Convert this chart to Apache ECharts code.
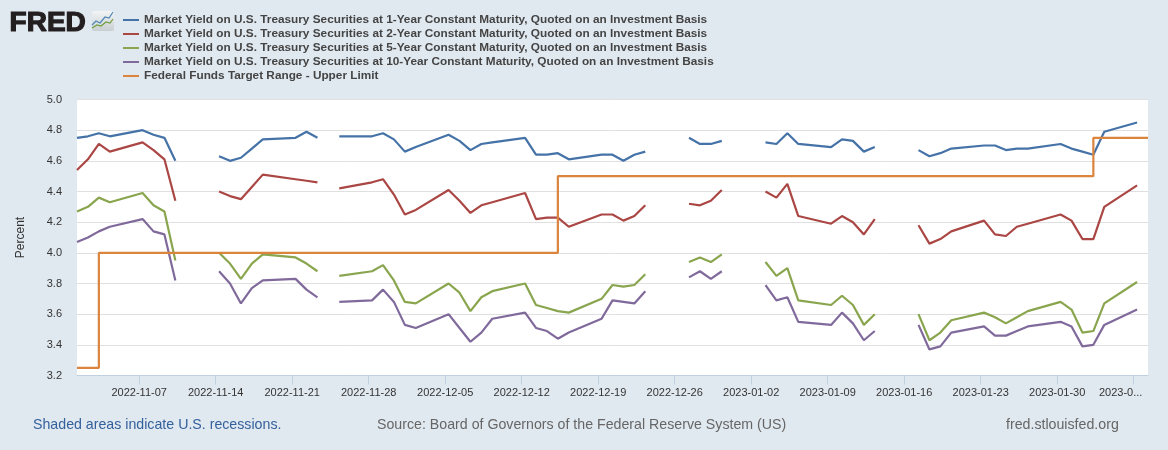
<!DOCTYPE html>
<html><head><meta charset="utf-8">
<style>html,body{margin:0;padding:0;background:#E1E9F0}#c{width:1168px;height:450px}</style>
<script src="https://cdn.jsdelivr.net/npm/echarts@6/dist/echarts.min.js"></script>
</head><body><div id="c"></div>
<script>
const dates = ['2022-11-01','2022-11-02','2022-11-03','2022-11-04','2022-11-07','2022-11-08','2022-11-09','2022-11-10','2022-11-11',
'2022-11-14','2022-11-15','2022-11-16','2022-11-17','2022-11-18','2022-11-21','2022-11-22','2022-11-23','2022-11-24','2022-11-25',
'2022-11-28','2022-11-29','2022-11-30','2022-12-01','2022-12-02','2022-12-05','2022-12-06','2022-12-07','2022-12-08','2022-12-09',
'2022-12-12','2022-12-13','2022-12-14','2022-12-15','2022-12-16','2022-12-19','2022-12-20','2022-12-21','2022-12-22','2022-12-23',
'2022-12-26','2022-12-27','2022-12-28','2022-12-29','2022-12-30','2023-01-02','2023-01-03','2023-01-04','2023-01-05','2023-01-06',
'2023-01-09','2023-01-10','2023-01-11','2023-01-12','2023-01-13','2023-01-16','2023-01-17','2023-01-18','2023-01-19','2023-01-20',
'2023-01-23','2023-01-24','2023-01-25','2023-01-26','2023-01-27','2023-01-30','2023-01-31','2023-02-01','2023-02-02','2023-02-03','2023-02-06'];
const y1 = [4.75,4.76,4.78,4.76,4.80,4.77,4.75,4.60,null,
4.63,4.60,4.62,4.68,4.74,4.75,4.79,4.75,null,4.76,
4.76,4.78,4.74,4.66,4.69,4.77,4.73,4.67,4.71,4.72,
4.75,4.64,4.64,4.65,4.61,4.64,4.64,4.60,4.64,4.66,
null,4.75,4.71,4.71,4.73,null,4.72,4.71,4.78,4.71,
4.69,4.74,4.73,4.66,4.69,null,4.67,4.63,4.65,4.68,
4.70,4.70,4.67,4.68,4.68,4.71,4.68,4.66,4.64,4.79,4.85];
const y2 = [4.54,4.61,4.71,4.66,4.72,4.67,4.61,4.34,null,
4.40,4.37,4.35,4.43,4.51,4.48,4.47,4.46,null,4.42,
4.46,4.48,4.38,4.25,4.28,4.41,4.34,4.26,4.31,4.33,
4.39,4.22,4.23,4.23,4.17,4.25,4.25,4.21,4.24,4.31,
null,4.32,4.31,4.34,4.41,null,4.40,4.36,4.45,4.24,
4.19,4.24,4.20,4.12,4.22,null,4.18,4.06,4.09,4.14,
4.21,4.12,4.11,4.17,4.19,4.25,4.21,4.09,4.09,4.30,4.44];
const y5 = [4.27,4.30,4.36,4.33,4.39,4.31,4.27,3.95,null,
4.00,3.93,3.83,3.93,3.99,3.97,3.93,3.88,null,3.85,
3.88,3.92,3.82,3.68,3.67,3.80,3.74,3.62,3.71,3.75,
3.80,3.66,3.64,3.62,3.61,3.70,3.79,3.78,3.79,3.86,
null,3.94,3.97,3.94,3.99,null,3.94,3.85,3.90,3.69,
3.66,3.72,3.66,3.53,3.60,null,3.60,3.43,3.48,3.56,
3.61,3.58,3.54,3.58,3.62,3.68,3.63,3.48,3.49,3.67,3.81];
const y10 = [4.07,4.10,4.14,4.17,4.22,4.14,4.12,3.82,null,
3.88,3.80,3.67,3.77,3.82,3.83,3.76,3.71,null,3.68,
3.69,3.76,3.68,3.53,3.51,3.60,3.51,3.42,3.48,3.57,
3.61,3.51,3.49,3.44,3.48,3.57,3.69,3.68,3.67,3.75,
null,3.84,3.88,3.83,3.88,null,3.79,3.69,3.71,3.55,
3.53,3.61,3.54,3.43,3.49,null,3.53,3.37,3.39,3.48,
3.52,3.46,3.46,3.49,3.52,3.55,3.52,3.39,3.40,3.53,3.63];
const fedDates = ['2022-11-01','2022-11-03','2022-12-15','2023-02-02','2023-02-07'];
const fedValues = [3.25,4.00,4.50,4.75,4.75];
const tickDates = ['2022-11-07','2022-11-14','2022-11-21','2022-11-28','2022-12-05','2022-12-12','2022-12-19','2022-12-26','2023-01-02','2023-01-09','2023-01-16','2023-01-23','2023-01-30','2023-02-06'];
const tickLabels = ['2022-11-07','2022-11-14','2022-11-21','2022-11-28','2022-12-05','2022-12-12','2022-12-19','2022-12-26','2023-01-02','2023-01-09','2023-01-16','2023-01-23','2023-01-30','{last|2023-0...}'];
const names = ['Market Yield on U.S. Treasury Securities at 1-Year Constant Maturity, Quoted on an Investment Basis',
'Market Yield on U.S. Treasury Securities at 2-Year Constant Maturity, Quoted on an Investment Basis',
'Market Yield on U.S. Treasury Securities at 5-Year Constant Maturity, Quoted on an Investment Basis',
'Market Yield on U.S. Treasury Securities at 10-Year Constant Maturity, Quoted on an Investment Basis',
'Federal Funds Target Range - Upper Limit'];
const colors = ['#4572A7','#AA4643','#89A54E','#80699B','#DB843D'];

const t = s => { const [a,b,c] = s.split('-').map(Number); return Date.UTC(a,b-1,c) / 86400000; };
const tickShift = 0.31;                 // FRED draws its week ticks slightly left of the points
const tickVals = tickDates.map(d => t(d) - tickShift);
const F = 'Arial, "Liberation Sans", sans-serif';
const FOOT = '14.2px Arial, "Liberation Sans", sans-serif';
const zip = (xs, ys) => xs.map((d, i) => [t(d), ys[i]]);
const line = (i, data, extra) => Object.assign({
  name: names[i], type: 'line', data, showSymbol: false, symbol: 'none', connectNulls: false,
  lineStyle: { width: 2.2, color: colors[i] }, itemStyle: { color: colors[i] }, animation: false,
  emphasis: { disabled: true }
}, extra || {});

const chart = echarts.init(document.getElementById('c'), null, { renderer: 'canvas' });
chart.setOption({
  animation: false,
  backgroundColor: '#E1E9F0',
  color: colors,
  grid: { left: 77, right: 20, top: 99.5, bottom: 74.5, show: true, backgroundColor: '#FFFFFF', borderWidth: 0 },
  legend: {
    orient: 'vertical', left: 123, top: 13, itemWidth: 16, itemHeight: 2, itemGap: 0, icon: 'rect',
    selectedMode: false, data: names.map(n => ({ name: n, icon: 'rect' })),
    textStyle: { fontFamily: F, fontSize: 11.8, fontWeight: 'bold', color: '#444', lineHeight: 14 },
    padding: 0
  },
  xAxis: {
    type: 'value', min: t('2022-11-01'), max: t('2023-02-07'), scale: true,
    axisLine: { show: true, lineStyle: { color: '#C0D0E0', width: 1 } },
    axisTick: { show: true, length: 9, lineStyle: { color: '#C0D0E0', width: 1 }, customValues: tickVals },
    axisLabel: {
      show: true, customValues: tickVals, hideOverlap: false, showMinLabel: true, showMaxLabel: true,
      margin: 12, fontFamily: F, fontSize: 11, color: '#333',
      formatter: v => tickLabels[tickVals.indexOf(v)] || '',
      rich: { last: { fontFamily: F, fontSize: 11, color: '#333', padding: [0,26,0,0] } }
    },
    splitLine: { show: false }
  },
  yAxis: {
    type: 'value', min: 3.2, max: 5.0, interval: 0.2, name: 'Percent', nameLocation: 'middle', nameGap: 50,
    nameTextStyle: { fontFamily: F, fontSize: 12, color: '#333' },
    axisLine: { show: false }, axisTick: { show: false },
    axisLabel: { margin: 15, fontFamily: F, fontSize: 11, color: '#333', formatter: v => v.toFixed(1) },
    splitLine: { show: true, lineStyle: { color: '#E0E0E0', width: 1 } }
  },
  series: [
    line(0, zip(dates, y1)), line(1, zip(dates, y2)), line(2, zip(dates, y5)), line(3, zip(dates, y10)),
    line(4, zip(fedDates, fedValues), { step: 'end' })
  ],
  graphic: [
    { type: 'text', left: 9, top: 8.5, style: { text: 'FRED', font: '900 28px Arial, "Liberation Sans", sans-serif', fill: '#231F20', stroke: '#231F20', lineWidth: 1.2 } },
    { type: 'rect', shape: { x: 92, y: 11, width: 22, height: 20, r: 2 }, style: { fill: new echarts.graphic.LinearGradient(0,0,0,1,[{offset:0,color:'#F2F4F5'},{offset:1,color:'#C9CFD2'}]) } },
    { type: 'polyline', shape: { points: [[92,25],[96,21],[100,23],[105,17],[109,18],[113,12]] }, style: { stroke: '#4F86B5', lineWidth: 1.2, fill: null } },
    { type: 'polyline', shape: { points: [[92,28],[97,25],[101,26],[106,22],[110,23],[113,19]] }, style: { stroke: '#6F9E3F', lineWidth: 1.2, fill: null } },
    { type: 'text', left: 33, top: 418, style: { text: 'Shaded areas indicate U.S. recessions.', font: FOOT, fill: '#34609C' } },
    { type: 'text', left: 377, top: 418, style: { text: 'Source: Board of Governors of the Federal Reserve System (US)', font: FOOT, fill: '#666666' } },
    { type: 'text', left: 1006, top: 418, style: { text: 'fred.stlouisfed.org', font: FOOT, fill: '#666666' } }
  ]
});
</script></body></html>
